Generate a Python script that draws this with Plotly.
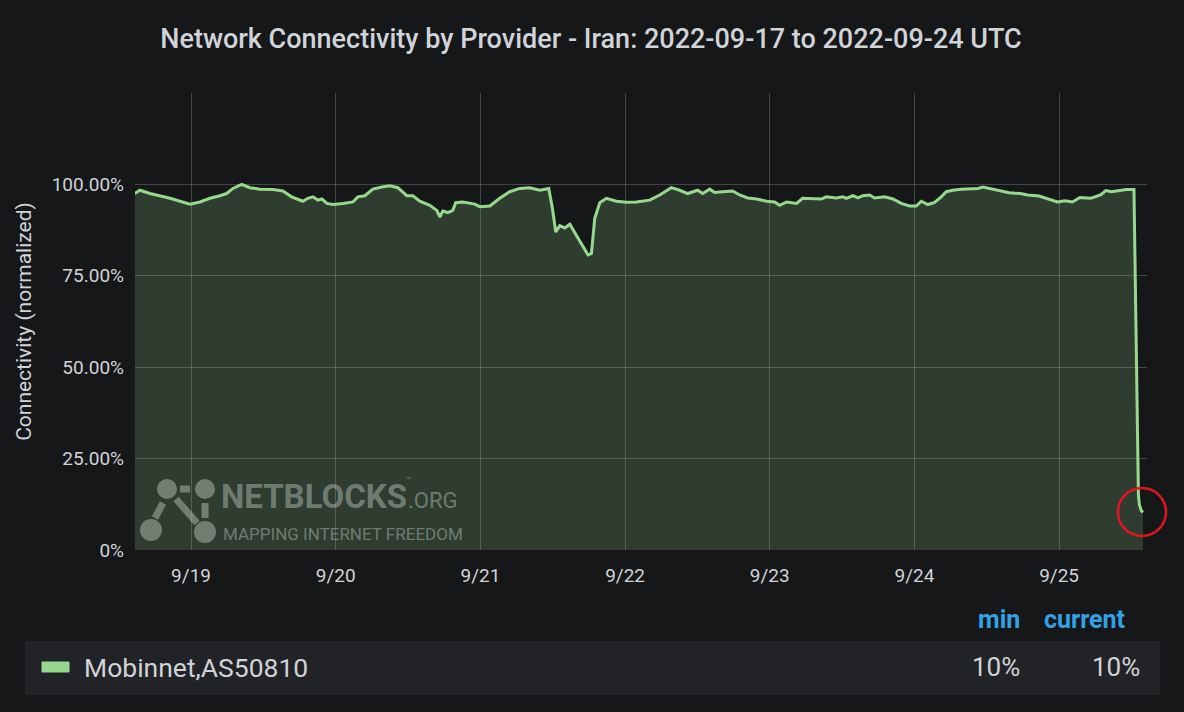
import pandas as pd
import plotly.graph_objects as go

# ---- data ----
# hours since 2022-09-19 00:00 UTC
hours = [-9.38, -8.47, -6.81, -5.16, -3.50, -1.84, -0.18, 1.48, 3.13, 4.79, 5.90, 6.95, 8.39, 9.77,
         11.42, 13.58, 15.24, 16.68, 18.55, 19.38, 20.21, 21.04, 21.70, 22.53, 23.53, 25.18, 26.84,
         27.67, 28.83, 30.16, 31.65, 32.98, 34.30, 35.79, 36.79, 37.95, 39.61, 40.77, 41.27, 41.77,
         42.59, 43.42, 43.90, 45.08, 47.07, 47.90, 49.56, 51.22, 52.87, 54.53, 56.19, 57.85, 59.34,
         59.95, 60.50, 61.17, 62.00, 62.83, 63.93, 65.03, 65.86, 66.42, 66.97, 67.80, 68.91, 70.57,
         72.22, 73.88, 76.09, 77.75, 79.68, 81.06, 82.39, 84.05, 84.87, 86.04, 86.87, 88.19, 89.85,
         91.01, 92.34, 93.83, 95.49, 96.81, 97.64, 98.80, 100.46, 101.45, 103.44, 104.55, 105.38,
         107.04, 108.13, 108.70, 109.79, 110.62, 111.45, 112.56, 113.39, 115.05, 116.43, 117.82,
         119.20, 120.31, 121.14, 122.23, 123.35, 124.45, 125.28, 126.37, 127.77, 129.14, 130.52,
         131.35, 133.25, 135.72, 137.58, 138.81, 140.67, 141.89, 143.73, 145.00, 146.22, 147.45,
         149.30, 150.86, 151.77, 152.69, 153.95, 155.17, 156.42, 157.16, 157.33, 157.66, 157.91]
connectivity = [97.5, 98.4, 97.5, 96.9, 96.2, 95.4, 94.6, 95.2, 96.2, 96.9, 97.5, 98.9, 100.0, 99.1,
                98.7, 98.6, 98.2, 96.6, 95.4, 96.2, 96.6, 95.7, 96.0, 94.8, 94.5, 94.8, 95.2,
                96.6, 96.9, 98.7, 99.3, 99.6, 99.1, 96.9, 96.9, 95.4, 94.3, 92.9, 91.1, 92.7,
                92.3, 92.9, 95.0, 95.2, 94.6, 93.9, 94.1, 96.2, 98.0, 98.9, 99.1, 98.4, 98.9,
                93.4, 87.0, 88.7, 88.1, 89.1, 86.1, 82.9, 80.7, 81.1, 90.7, 95.0, 96.2, 95.4,
                95.1, 95.2, 95.7, 97.1, 99.1, 98.4, 97.5, 98.4, 97.5, 98.7, 97.8, 98.0, 98.2,
                97.1, 96.3, 96.0, 95.4, 95.2, 94.3, 95.2, 94.8, 96.2, 96.2, 96.0, 96.6,
                96.3, 96.6, 96.2, 96.9, 96.3, 96.9, 97.1, 96.3, 96.6, 96.0, 94.8,
                94.1, 94.1, 95.4, 94.5, 95.1, 96.6, 98.0, 98.4, 98.7, 98.7, 98.9,
                99.3, 98.6, 97.7, 97.5, 97.1, 96.8, 96.2, 95.2, 95.5, 95.2, 96.4,
                96.2, 97.1, 98.3, 98.0, 98.3, 98.6, 98.6, 15.0, 12.3, 10.7, 10.3]

base_time = "2022-09-19 00:00"
x_start, x_end = "2022-09-18 14:42", "2022-09-25 14:35"
tick_dates = ["2022-09-19", "2022-09-20", "2022-09-21", "2022-09-22", "2022-09-23", "2022-09-24", "2022-09-25"]
tick_labels = ["9/19", "9/20", "9/21", "9/22", "9/23", "9/24", "9/25"]
y_ticks = [0, 25, 50, 75, 100, 125]
y_labels = ["0%", "25.00%", "50.00%", "75.00%", "100.00%", ""]
series_name = "Mobinnet,AS50810"
stat_headers = ["min", "current"]
stat_values = ["10%", "10%"]
title_text = "Network Connectivity by Provider - Iran: 2022-09-17 to 2022-09-24 UTC"

times = pd.Timestamp(base_time) + pd.to_timedelta(hours, unit="h")

BG = "#161719"
GREEN = "#96d98d"
TXT = "#d0d3d7"
W, H = 1184, 712
L, R, T, B = 135, 1147, 93, 550


def px(x):
    return (x - L) / (R - L)


def py(y):
    return (B - y) / (B - T)


fig = go.Figure()
fig.add_trace(go.Scatter(
    x=times, y=connectivity, mode="lines", name=series_name,
    line=dict(color=GREEN, width=3), fill="tozeroy",
    fillcolor="rgba(150,217,141,0.2)", showlegend=False))

shapes = []
annotations = []

# watermark logo
LOGO = "rgba(235,240,235,0.36)"
for cx, cy, r in [(167, 489, 10), (205, 489, 10), (151, 530, 11), (205, 532, 11)]:
    shapes.append(dict(type="circle", xref="paper", yref="paper",
                       x0=px(cx - r), x1=px(cx + r), y0=py(cy + r), y1=py(cy - r),
                       fillcolor=LOGO, line=dict(width=0), layer="above"))
for (x0, y0, x1, y1) in [(180, 489, 190, 489), (163, 503, 155, 518), (176, 499, 197, 523), (205, 503, 205, 518)]:
    shapes.append(dict(type="line", xref="paper", yref="paper",
                       x0=px(x0), x1=px(x1), y0=py(y0), y1=py(y1),
                       line=dict(color=LOGO, width=7), layer="above"))
annotations.append(dict(text="<b>NETBLOCKS</b>", xref="paper", yref="paper", x=px(219), y=py(496),
                        xanchor="left", yanchor="middle", showarrow=False,
                        font=dict(family="Roboto", size=33, color=LOGO)))
annotations.append(dict(text="™", xref="paper", yref="paper", x=px(404), y=py(480),
                        xanchor="left", yanchor="middle", showarrow=False,
                        font=dict(family="Roboto", size=8, color=LOGO)))
annotations.append(dict(text=".ORG", xref="paper", yref="paper", x=px(406), y=py(500),
                        xanchor="left", yanchor="middle", showarrow=False,
                        font=dict(family="Roboto", size=22, color=LOGO)))
annotations.append(dict(text="MAPPING INTERNET FREEDOM", xref="paper", yref="paper", x=px(221), y=py(534),
                        xanchor="left", yanchor="middle", showarrow=False,
                        font=dict(family="Roboto", size=17, color=LOGO)))

# red highlight circle
shapes.append(dict(type="circle", xref="paper", yref="paper",
                   x0=px(1118), x1=px(1166), y0=py(536), y1=py(488),
                   line=dict(color="#e3151c", width=2.5), layer="above"))

# legend table
shapes.append(dict(type="rect", xref="paper", yref="paper",
                   x0=px(25), x1=px(1160), y0=py(695), y1=py(641),
                   fillcolor="#222326", line=dict(width=0), layer="below"))
shapes.append(dict(type="rect", xref="paper", yref="paper",
                   x0=px(42), x1=px(69), y0=py(672), y1=py(662),
                   fillcolor=GREEN, line=dict(color=GREEN, width=1), layer="above"))
annotations.append(dict(text=series_name, xref="paper", yref="paper", x=px(82), y=py(667),
                        xanchor="left", yanchor="middle", showarrow=False,
                        font=dict(family="Roboto", size=26.5, color=TXT)))
for hdr, val, hx, vx in zip(stat_headers, stat_values, [1022, 1127], [1022, 1142]):
    annotations.append(dict(text="<b>" + hdr + "</b>", xref="paper", yref="paper", x=px(hx), y=py(619),
                            xanchor="right", yanchor="middle", showarrow=False,
                            font=dict(family="Roboto", size=25, color="#33a2e5")))
    annotations.append(dict(text=val, xref="paper", yref="paper", x=px(vx), y=py(667),
                            xanchor="right", yanchor="middle", showarrow=False,
                            font=dict(family="Roboto", size=26, color=TXT)))

fig.update_layout(
    width=W, height=H,
    margin=dict(l=L, r=W - R, t=T, b=H - B, autoexpand=False),
    paper_bgcolor=BG, plot_bgcolor=BG,
    title=dict(text=title_text, x=591 / W, xanchor="center", y=1 - 39 / H, yanchor="middle",
               xref="container", yref="container",
               font=dict(family="Roboto", size=27, color=TXT, weight=500)),
    font=dict(family="Roboto", color=TXT),
    shapes=shapes, annotations=annotations,
    xaxis=dict(type="date", range=[x_start, x_end], tickvals=tick_dates, ticktext=tick_labels,
               showgrid=True, gridcolor="rgba(255,255,255,0.2)", gridwidth=1,
               zeroline=False, showline=False, ticks="", ticklabelstandoff=12,
               tickfont=dict(size=19, color=TXT), fixedrange=True),
    yaxis=dict(range=[0, 125], tickvals=y_ticks, ticktext=y_labels,
               showgrid=True, gridcolor="rgba(255,255,255,0.2)", gridwidth=1,
               zeroline=False, showline=False, ticks="", ticklabelstandoff=10,
               tickfont=dict(size=19, color=TXT),
               title=dict(text="Connectivity (normalized)", font=dict(size=21, color=TXT), standoff=14),
               fixedrange=True),
)

fig.write_html("out.html", include_plotlyjs=True, full_html=True,
               config={"displayModeBar": False},
               post_script="document.body.style.margin='0';document.body.style.background='#161719';")
